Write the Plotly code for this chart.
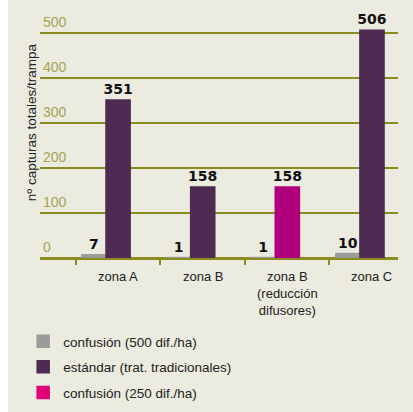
import plotly.graph_objects as go

categories = ["zona A", "zona B", "zona B<br>(reducción<br>difusores)", "zona C"]
conf500 = [7, 1, 1, 10]
estandar = [351, 158, None, 506]
conf250 = [None, None, 158, None]
series_names = ["confusión (500 dif./ha)", "estándar (trat. tradicionales)", "confusión (250 dif./ha)"]
y_ticks = [0, 100, 200, 300, 400, 500]

FONT = "Liberation Sans, Arial, sans-serif"
BG = "#ecebdf"
OLIVE = "#8b8b1e"
GRAY = "#9b9b9b"
PURPLE = "#4e2b53"
MAGENTA = "#b1007d"
MAGENTA_LEG = "#e2007a"

xs = list(range(len(categories)))

def fmt(v):
    return "" if v is None else str(v)

common = dict(textposition="outside", cliponaxis=False, constraintext="none",
              textfont=dict(family="DejaVu Sans", size=14, color="#111111", weight="bold"))

fig = go.Figure()
fig.add_trace(go.Bar(x=xs, y=conf500, name=series_names[0], marker=dict(color=GRAY, line=dict(color=GRAY, width=1.5)),
                     offsetgroup="a", legendgroup="a", text=[fmt(v) for v in conf500], **common))
fig.add_trace(go.Bar(x=xs, y=estandar, name=series_names[1], marker=dict(color=PURPLE, line=dict(color=PURPLE, width=1.5)),
                     offsetgroup="b", legendgroup="b", text=[fmt(v) for v in estandar], **common))
fig.add_trace(go.Bar(x=xs, y=conf250, name=series_names[2], marker=dict(color=MAGENTA, line=dict(color=MAGENTA, width=1.5)),
                     offsetgroup="b", legendgroup="c", showlegend=False,
                     text=[fmt(v) for v in conf250], **common))
# legend swatch for the 250 series (no data)
fig.add_trace(go.Bar(x=[None], y=[None], name=series_names[2],
                     marker=dict(color=MAGENTA_LEG, line=dict(color=MAGENTA_LEG, width=1.5)),
                     offsetgroup="b", legendgroup="c"))

tick_pos = [i - 0.36 for i in xs]

for i, c in enumerate(categories):
    fig.add_annotation(x=i + 0.14, y=0, xref="x", yref="y", text=c, showarrow=False,
                       yanchor="top", yshift=-9, font=dict(family=FONT, size=13, color="#222222"))

fig.add_annotation(x=-0.05, y=0.537, xref="paper", yref="paper", text="nº capturas totales/trampa",
                   textangle=-90, showarrow=False, font=dict(family=FONT, size=13.5, color="#222222"))

fig.update_layout(
    width=413, height=412,
    margin=dict(l=40, r=15, t=6, b=154, autoexpand=False),
    paper_bgcolor=BG, plot_bgcolor=BG,
    barmode="group", bargap=0.43, bargroupgap=0,
    showlegend=True,
    legend=dict(x=-0.047, xanchor="left", y=-0.27, yanchor="top", bgcolor="rgba(0,0,0,0)",
                font=dict(family=FONT, size=13.5, color="#222222"),
                traceorder="grouped", tracegroupgap=5, itemclick=False),
    xaxis=dict(range=[-0.78, 3.45], tickvals=tick_pos, ticktext=["" for _ in tick_pos],
               ticks="outside", ticklen=6, tickwidth=2, tickcolor=OLIVE,
               showgrid=False, zeroline=False, showline=False, fixedrange=True),
    xaxis2=dict(range=[-0.78, 3.45], overlaying="x", anchor="y", side="bottom",
                tickvals=tick_pos, ticktext=["" for _ in tick_pos],
                ticks="inside", ticklen=5, tickwidth=2, tickcolor=OLIVE,
                showgrid=False, zeroline=False, showline=False),
    yaxis=dict(range=[0, 560], tickvals=y_ticks, ticktext=[str(v) for v in y_ticks],
               showgrid=True, gridcolor=OLIVE, gridwidth=1.5,
               zeroline=True, zerolinecolor=OLIVE, zerolinewidth=3,
               ticks="", ticklabelposition="inside", ticklabelshift=-11, ticklabelstandoff=0,
               tickfont=dict(family=FONT, size=14, color="#a3a355"), showline=False),
    shapes=[dict(type="rect", xref="paper", yref="paper", x0=-40/358, x1=-32/358,
                 y0=-154/252, y1=1 + 6/252, fillcolor="white", line=dict(width=0), layer="below")],
)

fig.write_html("out.html", config={"displayModeBar": False},
               post_script="document.body.style.margin='0';")
